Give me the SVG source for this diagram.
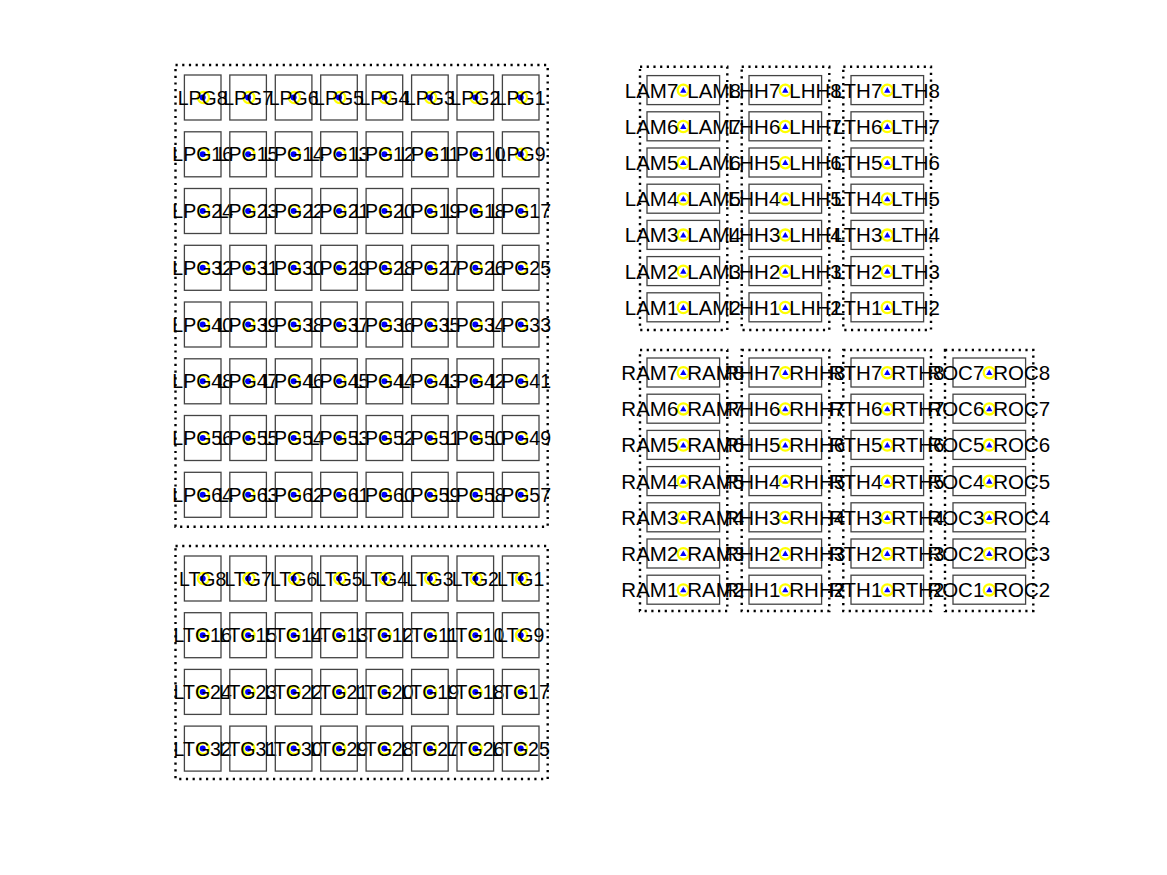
<svg xmlns="http://www.w3.org/2000/svg" xmlns:xlink="http://www.w3.org/1999/xlink" width="1167" height="875" viewBox="0 0 1167 875">
<style>
.bg{fill:#fff}
.frame{fill:none;stroke:#000;stroke-width:2.4;stroke-dasharray:2.2 4.5}
.box{fill:none;stroke:#444;stroke-width:1.3}
.ring{fill:none;stroke:#ffff00;stroke-width:2.3}
.dot{fill:#0000ff}
text{font-family:"Liberation Sans",Arial,sans-serif;font-size:19.5px;fill:#000}
.s text{font-size:20.5px}
.c{text-anchor:middle}
.l{text-anchor:end}
.r{text-anchor:start}
</style>
<defs>
<g id="gm"><rect class="box" x="-18.3" y="-22.5" width="36.6" height="45"/><circle class="ring" cx="0.8" cy="0" r="5.6"/><circle class="dot" cx="0" cy="0" r="3"/></g>
<g id="sm"><rect class="box" x="-36.3" y="-14.7" width="72.6" height="29"/><circle class="ring" cx="0" cy="0" r="5.6"/><polygon class="dot" points="0,-3.2 3.2,2.4 -3.2,2.4"/></g>
</defs>
<rect class="bg" x="0" y="0" width="1167" height="875"/>
<g id="frames">
<rect id="LPG-frame" class="frame" x="175.5" y="65" width="372.2" height="461.7"/>
<rect id="LTG-frame" class="frame" x="175.5" y="546" width="372.2" height="233"/>
<rect id="LAM-frame" class="frame" x="640" y="66.7" width="87.3" height="263.3"/>
<rect id="LHH-frame" class="frame" x="741.7" y="66.7" width="87.6" height="263.3"/>
<rect id="LTH-frame" class="frame" x="843.3" y="66.7" width="87.7" height="263.3"/>
<rect id="RAM-frame" class="frame" x="640" y="350" width="87.3" height="261"/>
<rect id="RHH-frame" class="frame" x="741.7" y="350" width="87.6" height="261"/>
<rect id="RTH-frame" class="frame" x="843.3" y="350" width="87.7" height="261"/>
<rect id="ROC-frame" class="frame" x="945" y="350" width="88.3" height="261"/>
</g>
<g id="LPG">
<g id="LPG8" transform="translate(202.7,97.5)"><use xlink:href="#gm"/><text class="c" y="7">LPG8</text></g>
<g id="LPG7" transform="translate(248.1,97.5)"><use xlink:href="#gm"/><text class="c" y="7">LPG7</text></g>
<g id="LPG6" transform="translate(293.6,97.5)"><use xlink:href="#gm"/><text class="c" y="7">LPG6</text></g>
<g id="LPG5" transform="translate(339,97.5)"><use xlink:href="#gm"/><text class="c" y="7">LPG5</text></g>
<g id="LPG4" transform="translate(384.4,97.5)"><use xlink:href="#gm"/><text class="c" y="7">LPG4</text></g>
<g id="LPG3" transform="translate(429.9,97.5)"><use xlink:href="#gm"/><text class="c" y="7">LPG3</text></g>
<g id="LPG2" transform="translate(475.3,97.5)"><use xlink:href="#gm"/><text class="c" y="7">LPG2</text></g>
<g id="LPG1" transform="translate(520.7,97.5)"><use xlink:href="#gm"/><text class="c" y="7">LPG1</text></g>
<g id="LPG16" transform="translate(202.7,154.3)"><use xlink:href="#gm"/><text class="c" y="7">LPG16</text></g>
<g id="LPG15" transform="translate(248.1,154.3)"><use xlink:href="#gm"/><text class="c" y="7">LPG15</text></g>
<g id="LPG14" transform="translate(293.6,154.3)"><use xlink:href="#gm"/><text class="c" y="7">LPG14</text></g>
<g id="LPG13" transform="translate(339,154.3)"><use xlink:href="#gm"/><text class="c" y="7">LPG13</text></g>
<g id="LPG12" transform="translate(384.4,154.3)"><use xlink:href="#gm"/><text class="c" y="7">LPG12</text></g>
<g id="LPG11" transform="translate(429.9,154.3)"><use xlink:href="#gm"/><text class="c" y="7">LPG11</text></g>
<g id="LPG10" transform="translate(475.3,154.3)"><use xlink:href="#gm"/><text class="c" y="7">LPG10</text></g>
<g id="LPG9" transform="translate(520.7,154.3)"><use xlink:href="#gm"/><text class="c" y="7">LPG9</text></g>
<g id="LPG24" transform="translate(202.7,211)"><use xlink:href="#gm"/><text class="c" y="7">LPG24</text></g>
<g id="LPG23" transform="translate(248.1,211)"><use xlink:href="#gm"/><text class="c" y="7">LPG23</text></g>
<g id="LPG22" transform="translate(293.6,211)"><use xlink:href="#gm"/><text class="c" y="7">LPG22</text></g>
<g id="LPG21" transform="translate(339,211)"><use xlink:href="#gm"/><text class="c" y="7">LPG21</text></g>
<g id="LPG20" transform="translate(384.4,211)"><use xlink:href="#gm"/><text class="c" y="7">LPG20</text></g>
<g id="LPG19" transform="translate(429.9,211)"><use xlink:href="#gm"/><text class="c" y="7">LPG19</text></g>
<g id="LPG18" transform="translate(475.3,211)"><use xlink:href="#gm"/><text class="c" y="7">LPG18</text></g>
<g id="LPG17" transform="translate(520.7,211)"><use xlink:href="#gm"/><text class="c" y="7">LPG17</text></g>
<g id="LPG32" transform="translate(202.7,267.8)"><use xlink:href="#gm"/><text class="c" y="7">LPG32</text></g>
<g id="LPG31" transform="translate(248.1,267.8)"><use xlink:href="#gm"/><text class="c" y="7">LPG31</text></g>
<g id="LPG30" transform="translate(293.6,267.8)"><use xlink:href="#gm"/><text class="c" y="7">LPG30</text></g>
<g id="LPG29" transform="translate(339,267.8)"><use xlink:href="#gm"/><text class="c" y="7">LPG29</text></g>
<g id="LPG28" transform="translate(384.4,267.8)"><use xlink:href="#gm"/><text class="c" y="7">LPG28</text></g>
<g id="LPG27" transform="translate(429.9,267.8)"><use xlink:href="#gm"/><text class="c" y="7">LPG27</text></g>
<g id="LPG26" transform="translate(475.3,267.8)"><use xlink:href="#gm"/><text class="c" y="7">LPG26</text></g>
<g id="LPG25" transform="translate(520.7,267.8)"><use xlink:href="#gm"/><text class="c" y="7">LPG25</text></g>
<g id="LPG40" transform="translate(202.7,324.5)"><use xlink:href="#gm"/><text class="c" y="7">LPG40</text></g>
<g id="LPG39" transform="translate(248.1,324.5)"><use xlink:href="#gm"/><text class="c" y="7">LPG39</text></g>
<g id="LPG38" transform="translate(293.6,324.5)"><use xlink:href="#gm"/><text class="c" y="7">LPG38</text></g>
<g id="LPG37" transform="translate(339,324.5)"><use xlink:href="#gm"/><text class="c" y="7">LPG37</text></g>
<g id="LPG36" transform="translate(384.4,324.5)"><use xlink:href="#gm"/><text class="c" y="7">LPG36</text></g>
<g id="LPG35" transform="translate(429.9,324.5)"><use xlink:href="#gm"/><text class="c" y="7">LPG35</text></g>
<g id="LPG34" transform="translate(475.3,324.5)"><use xlink:href="#gm"/><text class="c" y="7">LPG34</text></g>
<g id="LPG33" transform="translate(520.7,324.5)"><use xlink:href="#gm"/><text class="c" y="7">LPG33</text></g>
<g id="LPG48" transform="translate(202.7,381.3)"><use xlink:href="#gm"/><text class="c" y="7">LPG48</text></g>
<g id="LPG47" transform="translate(248.1,381.3)"><use xlink:href="#gm"/><text class="c" y="7">LPG47</text></g>
<g id="LPG46" transform="translate(293.6,381.3)"><use xlink:href="#gm"/><text class="c" y="7">LPG46</text></g>
<g id="LPG45" transform="translate(339,381.3)"><use xlink:href="#gm"/><text class="c" y="7">LPG45</text></g>
<g id="LPG44" transform="translate(384.4,381.3)"><use xlink:href="#gm"/><text class="c" y="7">LPG44</text></g>
<g id="LPG43" transform="translate(429.9,381.3)"><use xlink:href="#gm"/><text class="c" y="7">LPG43</text></g>
<g id="LPG42" transform="translate(475.3,381.3)"><use xlink:href="#gm"/><text class="c" y="7">LPG42</text></g>
<g id="LPG41" transform="translate(520.7,381.3)"><use xlink:href="#gm"/><text class="c" y="7">LPG41</text></g>
<g id="LPG56" transform="translate(202.7,438)"><use xlink:href="#gm"/><text class="c" y="7">LPG56</text></g>
<g id="LPG55" transform="translate(248.1,438)"><use xlink:href="#gm"/><text class="c" y="7">LPG55</text></g>
<g id="LPG54" transform="translate(293.6,438)"><use xlink:href="#gm"/><text class="c" y="7">LPG54</text></g>
<g id="LPG53" transform="translate(339,438)"><use xlink:href="#gm"/><text class="c" y="7">LPG53</text></g>
<g id="LPG52" transform="translate(384.4,438)"><use xlink:href="#gm"/><text class="c" y="7">LPG52</text></g>
<g id="LPG51" transform="translate(429.9,438)"><use xlink:href="#gm"/><text class="c" y="7">LPG51</text></g>
<g id="LPG50" transform="translate(475.3,438)"><use xlink:href="#gm"/><text class="c" y="7">LPG50</text></g>
<g id="LPG49" transform="translate(520.7,438)"><use xlink:href="#gm"/><text class="c" y="7">LPG49</text></g>
<g id="LPG64" transform="translate(202.7,494.8)"><use xlink:href="#gm"/><text class="c" y="7">LPG64</text></g>
<g id="LPG63" transform="translate(248.1,494.8)"><use xlink:href="#gm"/><text class="c" y="7">LPG63</text></g>
<g id="LPG62" transform="translate(293.6,494.8)"><use xlink:href="#gm"/><text class="c" y="7">LPG62</text></g>
<g id="LPG61" transform="translate(339,494.8)"><use xlink:href="#gm"/><text class="c" y="7">LPG61</text></g>
<g id="LPG60" transform="translate(384.4,494.8)"><use xlink:href="#gm"/><text class="c" y="7">LPG60</text></g>
<g id="LPG59" transform="translate(429.9,494.8)"><use xlink:href="#gm"/><text class="c" y="7">LPG59</text></g>
<g id="LPG58" transform="translate(475.3,494.8)"><use xlink:href="#gm"/><text class="c" y="7">LPG58</text></g>
<g id="LPG57" transform="translate(520.7,494.8)"><use xlink:href="#gm"/><text class="c" y="7">LPG57</text></g>
</g>
<g id="LTG">
<g id="LTG8" transform="translate(202.7,578.5)"><use xlink:href="#gm"/><text class="c" y="7">LTG8</text></g>
<g id="LTG7" transform="translate(248.1,578.5)"><use xlink:href="#gm"/><text class="c" y="7">LTG7</text></g>
<g id="LTG6" transform="translate(293.6,578.5)"><use xlink:href="#gm"/><text class="c" y="7">LTG6</text></g>
<g id="LTG5" transform="translate(339,578.5)"><use xlink:href="#gm"/><text class="c" y="7">LTG5</text></g>
<g id="LTG4" transform="translate(384.4,578.5)"><use xlink:href="#gm"/><text class="c" y="7">LTG4</text></g>
<g id="LTG3" transform="translate(429.9,578.5)"><use xlink:href="#gm"/><text class="c" y="7">LTG3</text></g>
<g id="LTG2" transform="translate(475.3,578.5)"><use xlink:href="#gm"/><text class="c" y="7">LTG2</text></g>
<g id="LTG1" transform="translate(520.7,578.5)"><use xlink:href="#gm"/><text class="c" y="7">LTG1</text></g>
<g id="LTG16" transform="translate(202.7,635.2)"><use xlink:href="#gm"/><text class="c" y="7">LTG16</text></g>
<g id="LTG15" transform="translate(248.1,635.2)"><use xlink:href="#gm"/><text class="c" y="7">LTG15</text></g>
<g id="LTG14" transform="translate(293.6,635.2)"><use xlink:href="#gm"/><text class="c" y="7">LTG14</text></g>
<g id="LTG13" transform="translate(339,635.2)"><use xlink:href="#gm"/><text class="c" y="7">LTG13</text></g>
<g id="LTG12" transform="translate(384.4,635.2)"><use xlink:href="#gm"/><text class="c" y="7">LTG12</text></g>
<g id="LTG11" transform="translate(429.9,635.2)"><use xlink:href="#gm"/><text class="c" y="7">LTG11</text></g>
<g id="LTG10" transform="translate(475.3,635.2)"><use xlink:href="#gm"/><text class="c" y="7">LTG10</text></g>
<g id="LTG9" transform="translate(520.7,635.2)"><use xlink:href="#gm"/><text class="c" y="7">LTG9</text></g>
<g id="LTG24" transform="translate(202.7,691.9)"><use xlink:href="#gm"/><text class="c" y="7">LTG24</text></g>
<g id="LTG23" transform="translate(248.1,691.9)"><use xlink:href="#gm"/><text class="c" y="7">LTG23</text></g>
<g id="LTG22" transform="translate(293.6,691.9)"><use xlink:href="#gm"/><text class="c" y="7">LTG22</text></g>
<g id="LTG21" transform="translate(339,691.9)"><use xlink:href="#gm"/><text class="c" y="7">LTG21</text></g>
<g id="LTG20" transform="translate(384.4,691.9)"><use xlink:href="#gm"/><text class="c" y="7">LTG20</text></g>
<g id="LTG19" transform="translate(429.9,691.9)"><use xlink:href="#gm"/><text class="c" y="7">LTG19</text></g>
<g id="LTG18" transform="translate(475.3,691.9)"><use xlink:href="#gm"/><text class="c" y="7">LTG18</text></g>
<g id="LTG17" transform="translate(520.7,691.9)"><use xlink:href="#gm"/><text class="c" y="7">LTG17</text></g>
<g id="LTG32" transform="translate(202.7,748.6)"><use xlink:href="#gm"/><text class="c" y="7">LTG32</text></g>
<g id="LTG31" transform="translate(248.1,748.6)"><use xlink:href="#gm"/><text class="c" y="7">LTG31</text></g>
<g id="LTG30" transform="translate(293.6,748.6)"><use xlink:href="#gm"/><text class="c" y="7">LTG30</text></g>
<g id="LTG29" transform="translate(339,748.6)"><use xlink:href="#gm"/><text class="c" y="7">LTG29</text></g>
<g id="LTG28" transform="translate(384.4,748.6)"><use xlink:href="#gm"/><text class="c" y="7">LTG28</text></g>
<g id="LTG27" transform="translate(429.9,748.6)"><use xlink:href="#gm"/><text class="c" y="7">LTG27</text></g>
<g id="LTG26" transform="translate(475.3,748.6)"><use xlink:href="#gm"/><text class="c" y="7">LTG26</text></g>
<g id="LTG25" transform="translate(520.7,748.6)"><use xlink:href="#gm"/><text class="c" y="7">LTG25</text></g>
</g>
<g id="LAM" class="s">
<g id="LAM7" transform="translate(683.3,90.3)"><use xlink:href="#sm"/><text class="l" x="-5" y="7.3">LAM7</text><text class="r" x="4" y="7.3">LAM8</text></g>
<g id="LAM6" transform="translate(683.3,126.5)"><use xlink:href="#sm"/><text class="l" x="-5" y="7.3">LAM6</text><text class="r" x="4" y="7.3">LAM7</text></g>
<g id="LAM5" transform="translate(683.3,162.7)"><use xlink:href="#sm"/><text class="l" x="-5" y="7.3">LAM5</text><text class="r" x="4" y="7.3">LAM6</text></g>
<g id="LAM4" transform="translate(683.3,198.9)"><use xlink:href="#sm"/><text class="l" x="-5" y="7.3">LAM4</text><text class="r" x="4" y="7.3">LAM5</text></g>
<g id="LAM3" transform="translate(683.3,235.1)"><use xlink:href="#sm"/><text class="l" x="-5" y="7.3">LAM3</text><text class="r" x="4" y="7.3">LAM4</text></g>
<g id="LAM2" transform="translate(683.3,271.3)"><use xlink:href="#sm"/><text class="l" x="-5" y="7.3">LAM2</text><text class="r" x="4" y="7.3">LAM3</text></g>
<g id="LAM1" transform="translate(683.3,307.5)"><use xlink:href="#sm"/><text class="l" x="-5" y="7.3">LAM1</text><text class="r" x="4" y="7.3">LAM2</text></g>
</g>
<g id="LHH" class="s">
<g id="LHH7" transform="translate(785.3,90.3)"><use xlink:href="#sm"/><text class="l" x="-5" y="7.3">LHH7</text><text class="r" x="4" y="7.3">LHH8</text></g>
<g id="LHH6" transform="translate(785.3,126.5)"><use xlink:href="#sm"/><text class="l" x="-5" y="7.3">LHH6</text><text class="r" x="4" y="7.3">LHH7</text></g>
<g id="LHH5" transform="translate(785.3,162.7)"><use xlink:href="#sm"/><text class="l" x="-5" y="7.3">LHH5</text><text class="r" x="4" y="7.3">LHH6</text></g>
<g id="LHH4" transform="translate(785.3,198.9)"><use xlink:href="#sm"/><text class="l" x="-5" y="7.3">LHH4</text><text class="r" x="4" y="7.3">LHH5</text></g>
<g id="LHH3" transform="translate(785.3,235.1)"><use xlink:href="#sm"/><text class="l" x="-5" y="7.3">LHH3</text><text class="r" x="4" y="7.3">LHH4</text></g>
<g id="LHH2" transform="translate(785.3,271.3)"><use xlink:href="#sm"/><text class="l" x="-5" y="7.3">LHH2</text><text class="r" x="4" y="7.3">LHH3</text></g>
<g id="LHH1" transform="translate(785.3,307.5)"><use xlink:href="#sm"/><text class="l" x="-5" y="7.3">LHH1</text><text class="r" x="4" y="7.3">LHH2</text></g>
</g>
<g id="LTH" class="s">
<g id="LTH7" transform="translate(887.3,90.3)"><use xlink:href="#sm"/><text class="l" x="-5" y="7.3">LTH7</text><text class="r" x="4" y="7.3">LTH8</text></g>
<g id="LTH6" transform="translate(887.3,126.5)"><use xlink:href="#sm"/><text class="l" x="-5" y="7.3">LTH6</text><text class="r" x="4" y="7.3">LTH7</text></g>
<g id="LTH5" transform="translate(887.3,162.7)"><use xlink:href="#sm"/><text class="l" x="-5" y="7.3">LTH5</text><text class="r" x="4" y="7.3">LTH6</text></g>
<g id="LTH4" transform="translate(887.3,198.9)"><use xlink:href="#sm"/><text class="l" x="-5" y="7.3">LTH4</text><text class="r" x="4" y="7.3">LTH5</text></g>
<g id="LTH3" transform="translate(887.3,235.1)"><use xlink:href="#sm"/><text class="l" x="-5" y="7.3">LTH3</text><text class="r" x="4" y="7.3">LTH4</text></g>
<g id="LTH2" transform="translate(887.3,271.3)"><use xlink:href="#sm"/><text class="l" x="-5" y="7.3">LTH2</text><text class="r" x="4" y="7.3">LTH3</text></g>
<g id="LTH1" transform="translate(887.3,307.5)"><use xlink:href="#sm"/><text class="l" x="-5" y="7.3">LTH1</text><text class="r" x="4" y="7.3">LTH2</text></g>
</g>
<g id="RAM" class="s">
<g id="RAM7" transform="translate(683.3,372.7)"><use xlink:href="#sm"/><text class="l" x="-5" y="7.3">RAM7</text><text class="r" x="4" y="7.3">RAM8</text></g>
<g id="RAM6" transform="translate(683.3,408.9)"><use xlink:href="#sm"/><text class="l" x="-5" y="7.3">RAM6</text><text class="r" x="4" y="7.3">RAM7</text></g>
<g id="RAM5" transform="translate(683.3,445.1)"><use xlink:href="#sm"/><text class="l" x="-5" y="7.3">RAM5</text><text class="r" x="4" y="7.3">RAM6</text></g>
<g id="RAM4" transform="translate(683.3,481.3)"><use xlink:href="#sm"/><text class="l" x="-5" y="7.3">RAM4</text><text class="r" x="4" y="7.3">RAM5</text></g>
<g id="RAM3" transform="translate(683.3,517.5)"><use xlink:href="#sm"/><text class="l" x="-5" y="7.3">RAM3</text><text class="r" x="4" y="7.3">RAM4</text></g>
<g id="RAM2" transform="translate(683.3,553.7)"><use xlink:href="#sm"/><text class="l" x="-5" y="7.3">RAM2</text><text class="r" x="4" y="7.3">RAM3</text></g>
<g id="RAM1" transform="translate(683.3,589.9)"><use xlink:href="#sm"/><text class="l" x="-5" y="7.3">RAM1</text><text class="r" x="4" y="7.3">RAM2</text></g>
</g>
<g id="RHH" class="s">
<g id="RHH7" transform="translate(785.3,372.7)"><use xlink:href="#sm"/><text class="l" x="-5" y="7.3">RHH7</text><text class="r" x="4" y="7.3">RHH8</text></g>
<g id="RHH6" transform="translate(785.3,408.9)"><use xlink:href="#sm"/><text class="l" x="-5" y="7.3">RHH6</text><text class="r" x="4" y="7.3">RHH7</text></g>
<g id="RHH5" transform="translate(785.3,445.1)"><use xlink:href="#sm"/><text class="l" x="-5" y="7.3">RHH5</text><text class="r" x="4" y="7.3">RHH6</text></g>
<g id="RHH4" transform="translate(785.3,481.3)"><use xlink:href="#sm"/><text class="l" x="-5" y="7.3">RHH4</text><text class="r" x="4" y="7.3">RHH5</text></g>
<g id="RHH3" transform="translate(785.3,517.5)"><use xlink:href="#sm"/><text class="l" x="-5" y="7.3">RHH3</text><text class="r" x="4" y="7.3">RHH4</text></g>
<g id="RHH2" transform="translate(785.3,553.7)"><use xlink:href="#sm"/><text class="l" x="-5" y="7.3">RHH2</text><text class="r" x="4" y="7.3">RHH3</text></g>
<g id="RHH1" transform="translate(785.3,589.9)"><use xlink:href="#sm"/><text class="l" x="-5" y="7.3">RHH1</text><text class="r" x="4" y="7.3">RHH2</text></g>
</g>
<g id="RTH" class="s">
<g id="RTH7" transform="translate(887.3,372.7)"><use xlink:href="#sm"/><text class="l" x="-5" y="7.3">RTH7</text><text class="r" x="4" y="7.3">RTH8</text></g>
<g id="RTH6" transform="translate(887.3,408.9)"><use xlink:href="#sm"/><text class="l" x="-5" y="7.3">RTH6</text><text class="r" x="4" y="7.3">RTH7</text></g>
<g id="RTH5" transform="translate(887.3,445.1)"><use xlink:href="#sm"/><text class="l" x="-5" y="7.3">RTH5</text><text class="r" x="4" y="7.3">RTH6</text></g>
<g id="RTH4" transform="translate(887.3,481.3)"><use xlink:href="#sm"/><text class="l" x="-5" y="7.3">RTH4</text><text class="r" x="4" y="7.3">RTH5</text></g>
<g id="RTH3" transform="translate(887.3,517.5)"><use xlink:href="#sm"/><text class="l" x="-5" y="7.3">RTH3</text><text class="r" x="4" y="7.3">RTH4</text></g>
<g id="RTH2" transform="translate(887.3,553.7)"><use xlink:href="#sm"/><text class="l" x="-5" y="7.3">RTH2</text><text class="r" x="4" y="7.3">RTH3</text></g>
<g id="RTH1" transform="translate(887.3,589.9)"><use xlink:href="#sm"/><text class="l" x="-5" y="7.3">RTH1</text><text class="r" x="4" y="7.3">RTH2</text></g>
</g>
<g id="ROC" class="s">
<g id="ROC7" transform="translate(989.3,372.7)"><use xlink:href="#sm"/><text class="l" x="-5" y="7.3">ROC7</text><text class="r" x="4" y="7.3">ROC8</text></g>
<g id="ROC6" transform="translate(989.3,408.9)"><use xlink:href="#sm"/><text class="l" x="-5" y="7.3">ROC6</text><text class="r" x="4" y="7.3">ROC7</text></g>
<g id="ROC5" transform="translate(989.3,445.1)"><use xlink:href="#sm"/><text class="l" x="-5" y="7.3">ROC5</text><text class="r" x="4" y="7.3">ROC6</text></g>
<g id="ROC4" transform="translate(989.3,481.3)"><use xlink:href="#sm"/><text class="l" x="-5" y="7.3">ROC4</text><text class="r" x="4" y="7.3">ROC5</text></g>
<g id="ROC3" transform="translate(989.3,517.5)"><use xlink:href="#sm"/><text class="l" x="-5" y="7.3">ROC3</text><text class="r" x="4" y="7.3">ROC4</text></g>
<g id="ROC2" transform="translate(989.3,553.7)"><use xlink:href="#sm"/><text class="l" x="-5" y="7.3">ROC2</text><text class="r" x="4" y="7.3">ROC3</text></g>
<g id="ROC1" transform="translate(989.3,589.9)"><use xlink:href="#sm"/><text class="l" x="-5" y="7.3">ROC1</text><text class="r" x="4" y="7.3">ROC2</text></g>
</g>
</svg>
